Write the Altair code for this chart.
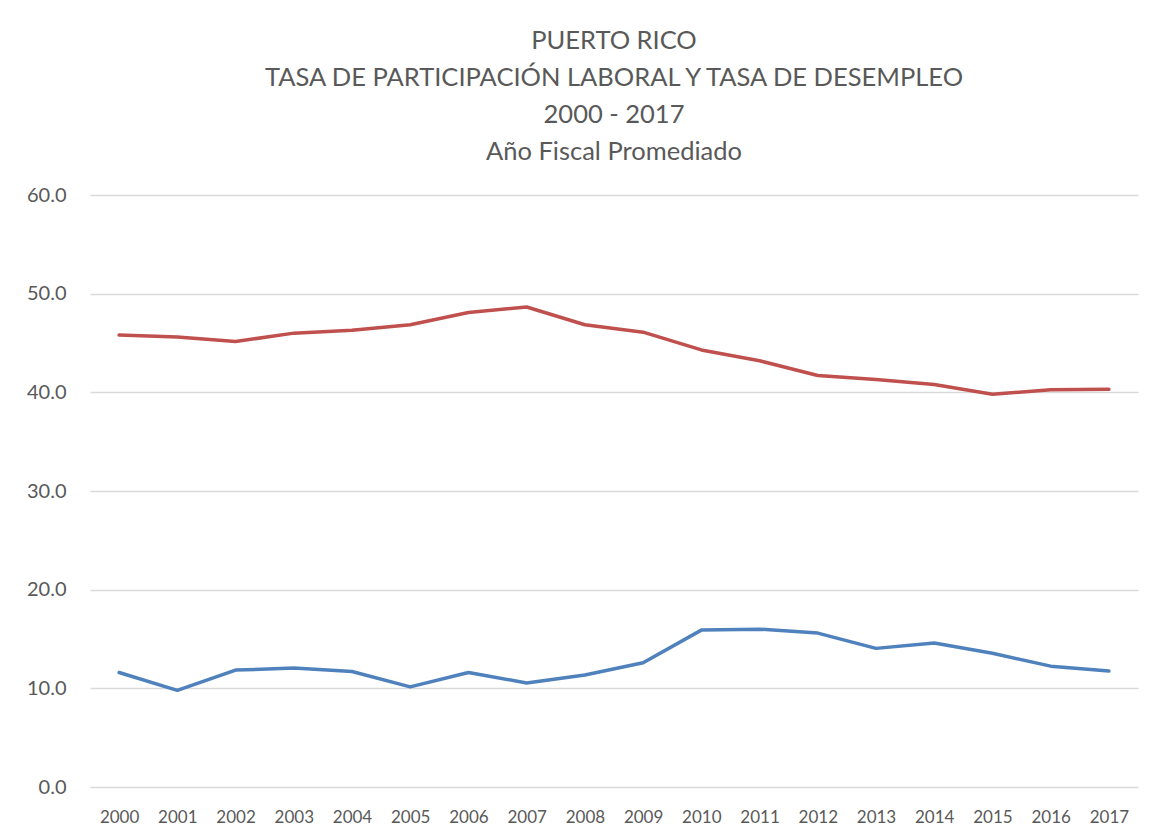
import altair as alt
import pandas as pd

years = [str(y) for y in range(2000, 2018)]
participacion = [45.8, 45.6, 45.15, 46.0, 46.3, 46.85, 48.1, 48.65, 46.85, 46.1,
                 44.3, 43.2, 41.7, 41.3, 40.8, 39.8, 40.25, 40.3]
desempleo = [11.6, 9.8, 11.85, 12.05, 11.7, 10.15, 11.6, 10.55, 11.35, 12.6,
             15.9, 16.0, 15.6, 14.05, 14.6, 13.55, 12.25, 11.75]
series_names = ["Tasa de Participación Laboral", "Tasa de Desempleo"]
series_colors = ["#C0504D", "#4F81BD"]
title_lines = ["PUERTO RICO", "TASA DE PARTICIPACIÓN LABORAL Y TASA DE DESEMPLEO",
               "2000 - 2017", "Año Fiscal Promediado"]

df = pd.DataFrame({
    "Año": years * 2,
    "Valor": participacion + desempleo,
    "Serie": [series_names[0]] * len(years) + [series_names[1]] * len(years),
})

FONT = "Lato"
W, H = 1048, 592

lines = alt.Chart(df).mark_line(strokeWidth=3.5, strokeCap="round", strokeJoin="round").encode(
    x=alt.X("Año:O", sort=years,
            scale=alt.Scale(type="point", padding=0.5),
            axis=alt.Axis(title=None, labelAngle=0, labelFont=FONT, labelFontSize=17,
                          labelColor="#595959", labelPadding=22, ticks=False,
                          domain=False, grid=False)),
    y=alt.Y("Valor:Q", scale=alt.Scale(domain=[0, 60], nice=False),
            axis=alt.Axis(title=None, values=[0, 10, 20, 30, 40, 50, 60], format=".1f",
                          labelFont=FONT, labelFontSize=20, labelColor="#595959",
                          labelPadding=24, ticks=False, domain=False,
                          gridColor="#D9D9D9", gridWidth=1.3)),
    color=alt.Color("Serie:N", scale=alt.Scale(domain=series_names, range=series_colors),
                    legend=None),
    detail="Serie:N",
)

chart = lines.properties(
    width=W, height=H,
    title=alt.TitleParams(title_lines, font=FONT, fontSize=25.5, fontWeight="normal",
                          color="#595959", anchor="middle", lineHeight=37, offset=20),
    autosize=alt.AutoSizeParams(type="none"),
    padding={"left": 82, "top": 187, "right": 4, "bottom": 45},
).configure(background="white").configure_view(stroke=None)

chart.save("out.html", embed_options={"renderer": "svg", "actions": False})
